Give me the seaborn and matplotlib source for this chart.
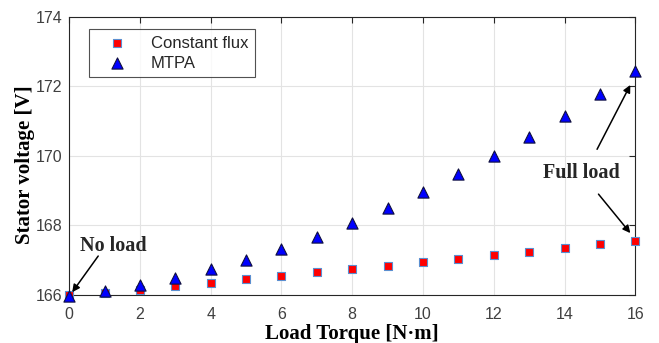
import numpy as np
import pandas as pd
import matplotlib
matplotlib.use("Agg")
import matplotlib.pyplot as plt
import seaborn as sns

torque = [0, 1, 2, 3, 4, 5, 6, 7, 8, 9, 10, 11, 12, 13, 14, 15, 16]
const_flux = [166.0, 166.06, 166.14, 166.25, 166.35, 166.45, 166.55, 166.65,
              166.76, 166.84, 166.95, 167.04, 167.15, 167.24, 167.34, 167.46, 167.55]
mtpa = [165.98, 166.11, 166.29, 166.5, 166.74, 167.0, 167.32, 167.67,
        168.07, 168.49, 168.95, 169.48, 170.0, 170.55, 171.16, 171.78, 172.45]
series_names = ["Constant flux", "MTPA"]
x_ticks = [0, 2, 4, 6, 8, 10, 12, 14, 16]
y_ticks = [166, 168, 170, 172, 174]

df = pd.DataFrame({
    "torque": torque * 2,
    "voltage": const_flux + mtpa,
    "method": [series_names[0]] * len(torque) + [series_names[1]] * len(torque),
})

sns.set_theme(style="white")
plt.rcParams["font.family"] = ["Liberation Sans", "DejaVu Sans"]

fig = plt.figure(figsize=(6.59, 3.43), dpi=100)
ax = fig.add_axes([0.105, 0.140, 0.859, 0.811])

sns.scatterplot(data=df[df.method == series_names[0]], x="torque", y="voltage",
                marker="s", color="#ff0000", edgecolor="#5b8fd0", linewidth=0.8,
                s=32, ax=ax, label=series_names[0], clip_on=False, zorder=3)
sns.scatterplot(data=df[df.method == series_names[1]], x="torque", y="voltage",
                marker="^", color="#0000ff", edgecolor="#101040", linewidth=0.8,
                s=65, ax=ax, label=series_names[1], clip_on=False, zorder=4)

ax.set_xlim(0, 16)
ax.set_ylim(166, 174)
ax.set_xticks(x_ticks)
ax.set_yticks(y_ticks)
ax.grid(True, color="#e3e3e3", linewidth=0.8)
ax.set_axisbelow(True)
for sp in ax.spines.values():
    sp.set_color("#262626")
    sp.set_linewidth(0.8)
ax.tick_params(direction="in", top=True, right=True, length=4, width=0.8,
               colors="#262626", labelsize=11.5, labelcolor="#404040")
ax.tick_params(axis="x", pad=9)
ax.tick_params(axis="y", pad=5)

ax.set_xlabel("Load Torque [N·m]", fontfamily="Liberation Serif", fontweight="bold",
              fontsize=15, color="black", labelpad=1)
ax.set_ylabel("Stator voltage [V]", fontfamily="Liberation Serif", fontweight="bold",
              fontsize=15, color="black")
ax.yaxis.set_label_coords(-0.060, 0.47)

leg = ax.legend(loc="upper left", bbox_to_anchor=(0.035, 0.956), fontsize=12,
                frameon=True, fancybox=False, edgecolor="#262626",
                borderpad=0.4, handletextpad=0.7, labelspacing=0.3,
                handlelength=2.6, borderaxespad=0)
leg.get_frame().set_linewidth(0.8)

ann_kw = dict(fontfamily="Liberation Serif", fontweight="bold", fontsize=14.5,
              ha="center", va="center")
arrow_kw = dict(arrowstyle="-|>", color="black", lw=1.1, mutation_scale=11,
                shrinkA=0, shrinkB=0)
ax.text(1.24, 167.40, "No load", **ann_kw)
ax.annotate("", xy=(0.085, 166.08), xytext=(0.82, 167.12), arrowprops=arrow_kw,
            annotation_clip=False)
ax.text(14.47, 169.50, "Full load", **ann_kw)
ax.annotate("", xy=(15.86, 172.04), xytext=(14.92, 170.19), arrowprops=arrow_kw,
            annotation_clip=False)
ax.annotate("", xy=(15.86, 167.78), xytext=(14.96, 168.9), arrowprops=arrow_kw,
            annotation_clip=False)

fig.savefig("out.png", dpi=100)
